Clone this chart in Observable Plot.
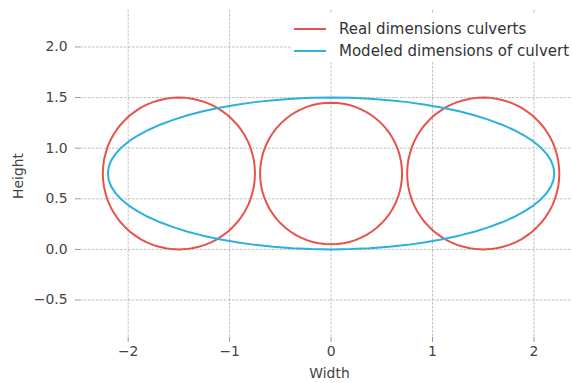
<!DOCTYPE html>
<html>
<head>
<meta charset="utf-8">
<script src="https://cdn.jsdelivr.net/npm/d3@7"></script>
<script src="https://cdn.jsdelivr.net/npm/@observablehq/plot@0.6"></script>
<style>
  body { margin: 0; background: white; }
  #wrap { position: relative; width: 572px; height: 383px; overflow: hidden; font-family: "DejaVu Sans", sans-serif; }
  #legend { position: absolute; left: 292px; top: 14px; width: 290px; height: 48px; background: white; }
  .item { position: absolute; left: 0; height: 22px; display: flex; align-items: center; font-size: 15px; color: #333; white-space: nowrap; }
  .swatch { width: 32px; height: 0; border-top: 2.2px solid; margin-left: 2px; margin-right: 13px; }
</style>
</head>
<body>
<div id="wrap"><div id="legend"></div></div>
<script>
// Tick values
const xTicks = [-2, -1, 0, 1, 2];
const yTicks = [-0.5, 0, 0.5, 1, 1.5, 2];

// Series names and colours
const seriesNames = ["Real dimensions culverts", "Modeled dimensions of culvert"];
const seriesColors = ["#e8524a", "#2bb0df"];

// Real culvert 1 (left circle)
const leftX = [-0.75,-0.753,-0.761,-0.776,-0.795,-0.82,-0.85,-0.886,-0.925,-0.97,-1.018,-1.07,-1.125,-1.183,-1.243,-1.306,-1.37,-1.435,-1.5,
  -1.565,-1.63,-1.694,-1.757,-1.817,-1.875,-1.93,-1.982,-2.03,-2.075,-2.114,-2.15,-2.18,-2.205,-2.224,-2.239,-2.247,-2.25,
  -2.247,-2.239,-2.224,-2.205,-2.18,-2.15,-2.114,-2.075,-2.03,-1.982,-1.93,-1.875,-1.817,-1.757,-1.694,-1.63,-1.565,-1.5,
  -1.435,-1.37,-1.306,-1.243,-1.183,-1.125,-1.07,-1.018,-0.97,-0.925,-0.886,-0.85,-0.82,-0.795,-0.776,-0.761,-0.753,-0.75];
const leftY = [0.75,0.815,0.88,0.944,1.007,1.067,1.125,1.18,1.232,1.28,1.325,1.364,1.4,1.43,1.455,1.474,1.489,1.497,1.5,
  1.497,1.489,1.474,1.455,1.43,1.4,1.364,1.325,1.28,1.232,1.18,1.125,1.067,1.007,0.944,0.88,0.815,0.75,
  0.685,0.62,0.556,0.493,0.433,0.375,0.32,0.268,0.22,0.175,0.136,0.1,0.07,0.045,0.026,0.011,0.003,0,
  0.003,0.011,0.026,0.045,0.07,0.1,0.136,0.175,0.22,0.268,0.32,0.375,0.433,0.493,0.556,0.62,0.685,0.75];

// Real culvert 2 (middle circle)
const midX = [0.7,0.697,0.689,0.676,0.658,0.634,0.606,0.573,0.536,0.495,0.45,0.402,0.35,0.296,0.239,0.181,0.122,0.061,0,
  -0.061,-0.122,-0.181,-0.239,-0.296,-0.35,-0.402,-0.45,-0.495,-0.536,-0.573,-0.606,-0.634,-0.658,-0.676,-0.689,-0.697,-0.7,
  -0.697,-0.689,-0.676,-0.658,-0.634,-0.606,-0.573,-0.536,-0.495,-0.45,-0.402,-0.35,-0.296,-0.239,-0.181,-0.122,-0.061,0,
  0.061,0.122,0.181,0.239,0.296,0.35,0.402,0.45,0.495,0.536,0.573,0.606,0.634,0.658,0.676,0.689,0.697,0.7];
const midY = [0.75,0.811,0.872,0.931,0.989,1.046,1.1,1.152,1.2,1.245,1.286,1.323,1.356,1.384,1.408,1.426,1.439,1.447,1.45,
  1.447,1.439,1.426,1.408,1.384,1.356,1.323,1.286,1.245,1.2,1.152,1.1,1.046,0.989,0.931,0.872,0.811,0.75,
  0.689,0.628,0.569,0.511,0.454,0.4,0.348,0.3,0.255,0.214,0.177,0.144,0.116,0.092,0.074,0.061,0.053,0.05,
  0.053,0.061,0.074,0.092,0.116,0.144,0.177,0.214,0.255,0.3,0.348,0.4,0.454,0.511,0.569,0.628,0.689,0.75];

// Real culvert 3 (right circle)
const rightX = [2.25,2.247,2.239,2.224,2.205,2.18,2.15,2.114,2.075,2.03,1.982,1.93,1.875,1.817,1.757,1.694,1.63,1.565,1.5,
  1.435,1.37,1.306,1.243,1.183,1.125,1.07,1.018,0.97,0.925,0.886,0.85,0.82,0.795,0.776,0.761,0.753,0.75,
  0.753,0.761,0.776,0.795,0.82,0.85,0.886,0.925,0.97,1.018,1.07,1.125,1.183,1.243,1.306,1.37,1.435,1.5,
  1.565,1.63,1.694,1.757,1.817,1.875,1.93,1.982,2.03,2.075,2.114,2.15,2.18,2.205,2.224,2.239,2.247,2.25];
const rightY = [0.75,0.815,0.88,0.944,1.007,1.067,1.125,1.18,1.232,1.28,1.325,1.364,1.4,1.43,1.455,1.474,1.489,1.497,1.5,
  1.497,1.489,1.474,1.455,1.43,1.4,1.364,1.325,1.28,1.232,1.18,1.125,1.067,1.007,0.944,0.88,0.815,0.75,
  0.685,0.62,0.556,0.493,0.433,0.375,0.32,0.268,0.22,0.175,0.136,0.1,0.07,0.045,0.026,0.011,0.003,0,
  0.003,0.011,0.026,0.045,0.07,0.1,0.136,0.175,0.22,0.268,0.32,0.375,0.433,0.493,0.556,0.62,0.685,0.75];

// Modeled culvert (ellipse)
const modelX = [2.2,2.192,2.167,2.125,2.067,1.994,1.905,1.802,1.685,1.556,1.414,1.262,1.1,0.93,0.752,0.569,0.382,0.192,0,
  -0.192,-0.382,-0.569,-0.752,-0.93,-1.1,-1.262,-1.414,-1.556,-1.685,-1.802,-1.905,-1.994,-2.067,-2.125,-2.167,-2.192,-2.2,
  -2.192,-2.167,-2.125,-2.067,-1.994,-1.905,-1.802,-1.685,-1.556,-1.414,-1.262,-1.1,-0.93,-0.752,-0.569,-0.382,-0.192,0,
  0.192,0.382,0.569,0.752,0.93,1.1,1.262,1.414,1.556,1.685,1.802,1.905,1.994,2.067,2.125,2.167,2.192,2.2];
const modelY = [0.75,0.815,0.88,0.944,1.007,1.067,1.125,1.18,1.232,1.28,1.325,1.364,1.4,1.43,1.455,1.474,1.489,1.497,1.5,
  1.497,1.489,1.474,1.455,1.43,1.4,1.364,1.325,1.28,1.232,1.18,1.125,1.067,1.007,0.944,0.88,0.815,0.75,
  0.685,0.62,0.556,0.493,0.433,0.375,0.32,0.268,0.22,0.175,0.136,0.1,0.07,0.045,0.026,0.011,0.003,0,
  0.003,0.011,0.026,0.045,0.07,0.1,0.136,0.175,0.22,0.268,0.32,0.375,0.433,0.493,0.556,0.62,0.685,0.75];

const toPts = (xs, ys) => xs.map((x, i) => ({x, y: ys[i]}));

const gridStyle = {stroke: "#b0b0b0", strokeWidth: 0.8, strokeDasharray: "2.6,1.4"};
const lineStyle = (c) => ({x: "x", y: "y", stroke: c, strokeWidth: 2, strokeLinejoin: "round", strokeLinecap: "round"});

const chart = Plot.plot({
  width: 572,
  height: 383,
  marginLeft: 80,
  marginRight: 0,
  marginTop: 10,
  marginBottom: 46,
  x: {domain: [-2.47, 2.38]},
  y: {domain: [-0.87, 2.36]},
  style: {fontFamily: "DejaVu Sans", fontSize: "13.9px", color: "#444", background: "white", overflow: "visible"},
  marks: [
    Plot.ruleX(xTicks, gridStyle),
    Plot.ruleY(yTicks, gridStyle),
    Plot.axisX({ticks: xTicks, tickSize: 5, tickPadding: 4, label: null, tickFormat: d3.format("d"), stroke: "#999", fill: "#444", fontSize: 13.9}),
    Plot.axisY({ticks: yTicks, tickSize: 5, tickPadding: 8, label: null, tickFormat: d3.format(".1f"), stroke: "#999", fill: "#444", fontSize: 13.9}),
    Plot.line(toPts(leftX, leftY), lineStyle(seriesColors[0])),
    Plot.line(toPts(midX, midY), lineStyle(seriesColors[0])),
    Plot.line(toPts(rightX, rightY), lineStyle(seriesColors[0])),
    Plot.line(toPts(modelX, modelY), lineStyle(seriesColors[1])),
    Plot.text(["Width"], {text: d => d, frameAnchor: "bottom", dx: 3, dy: 36, lineAnchor: "middle", fontSize: 13.9, fill: "#444"}),
    Plot.text(["Height"], {text: d => d, frameAnchor: "left", dx: -62, dy: 2, rotate: -90, lineAnchor: "middle", textAnchor: "middle", fontSize: 13.9, fill: "#444"})
  ]
});

const wrap = document.getElementById("wrap");
wrap.insertBefore(chart, wrap.firstChild);

const legend = document.getElementById("legend");
seriesNames.forEach((name, i) => {
  const item = document.createElement("div");
  item.className = "item";
  item.style.top = (4 + i * 22) + "px";
  const sw = document.createElement("div");
  sw.className = "swatch";
  sw.style.borderTopColor = seriesColors[i];
  const label = document.createElement("span");
  label.textContent = name;
  item.appendChild(sw);
  item.appendChild(label);
  legend.appendChild(item);
});
</script>
</body>
</html>
